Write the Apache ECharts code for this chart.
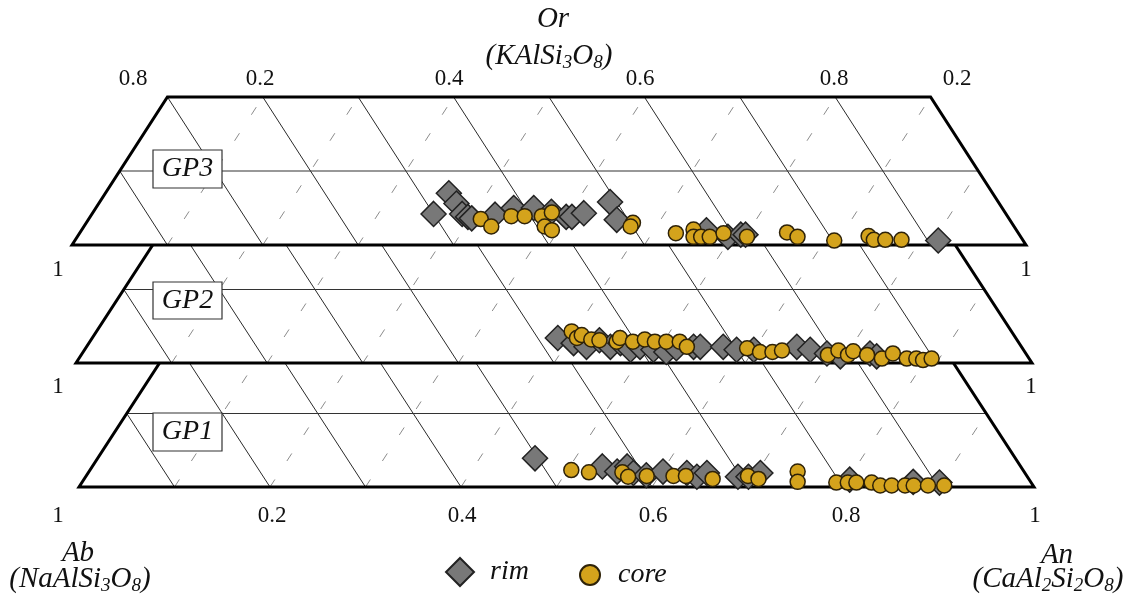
<!DOCTYPE html>
<html>
<head>
<meta charset="utf-8">
<script src="https://cdn.jsdelivr.net/npm/echarts/dist/echarts.min.js"></script>
<style>
  html, body { margin: 0; padding: 0; background: #ffffff; }
  #chart { width: 1139px; height: 595px; }
</style>
</head>
<body>
<div id="chart"></div>
<script>
// Feldspar compositions, each point as [An, Or] mole fraction (Ab = 1 - An - Or)
const gp3Rim = [
  [0.358, 0.042], [0.360, 0.070], [0.375, 0.056], [0.388, 0.042], [0.396, 0.038],
  [0.401, 0.036], [0.423, 0.041], [0.438, 0.050], [0.459, 0.050], [0.480, 0.045],
  [0.499, 0.038], [0.505, 0.038], [0.515, 0.043], [0.535, 0.058], [0.554, 0.034],
  [0.655, 0.020], [0.682, 0.011], [0.694, 0.014], [0.699, 0.014], [0.905, 0.006]
];
const gp3Core = [
  [0.411, 0.035], [0.427, 0.025], [0.441, 0.039], [0.455, 0.039], [0.473, 0.039],
  [0.481, 0.044], [0.483, 0.025], [0.493, 0.020], [0.573, 0.030], [0.573, 0.025],
  [0.625, 0.016], [0.641, 0.021], [0.646, 0.011], [0.654, 0.011], [0.663, 0.011],
  [0.675, 0.016], [0.702, 0.011], [0.741, 0.017], [0.755, 0.011], [0.796, 0.006],
  [0.829, 0.012], [0.837, 0.007], [0.849, 0.007], [0.866, 0.007]
];
const gp2Rim = [
  [0.487, 0.034], [0.507, 0.027], [0.523, 0.022], [0.532, 0.031], [0.548, 0.022],
  [0.556, 0.027], [0.571, 0.018], [0.579, 0.022], [0.595, 0.018], [0.610, 0.015],
  [0.618, 0.020], [0.635, 0.022], [0.642, 0.022], [0.666, 0.022], [0.682, 0.018],
  [0.700, 0.018], [0.743, 0.022], [0.759, 0.018], [0.779, 0.013], [0.795, 0.009],
  [0.824, 0.013], [0.833, 0.009]
];
const gp2Core = [
  [0.497, 0.043], [0.507, 0.034], [0.510, 0.038], [0.523, 0.032], [0.532, 0.031],
  [0.551, 0.029], [0.552, 0.034], [0.568, 0.029], [0.579, 0.032], [0.591, 0.029],
  [0.603, 0.029], [0.617, 0.029], [0.628, 0.022], [0.692, 0.020], [0.708, 0.015],
  [0.721, 0.015], [0.730, 0.017], [0.781, 0.011], [0.789, 0.017], [0.802, 0.011],
  [0.805, 0.016], [0.822, 0.011], [0.840, 0.006], [0.848, 0.013], [0.866, 0.006],
  [0.876, 0.006], [0.884, 0.004], [0.892, 0.006]
];
const gp1Rim = [
  [0.458, 0.039], [0.534, 0.028], [0.553, 0.021], [0.560, 0.028], [0.571, 0.019],
  [0.586, 0.016], [0.601, 0.021], [0.627, 0.019], [0.640, 0.014], [0.648, 0.019],
  [0.683, 0.014], [0.694, 0.014], [0.704, 0.019], [0.802, 0.010], [0.870, 0.007],
  [0.898, 0.006]
];
const gp1Core = [
  [0.504, 0.023], [0.524, 0.020], [0.559, 0.020], [0.568, 0.014], [0.587, 0.015],
  [0.615, 0.015], [0.628, 0.015], [0.658, 0.011], [0.693, 0.015], [0.706, 0.011],
  [0.742, 0.021], [0.749, 0.007], [0.790, 0.006], [0.802, 0.006], [0.811, 0.006],
  [0.827, 0.006], [0.838, 0.002], [0.850, 0.002], [0.864, 0.002], [0.873, 0.002],
  [0.888, 0.002], [0.905, 0.002]
];

// Ternary grid: the diagram is truncated at Or = 0.2
const orMax = 0.2;
const orGrid = [0.1];
const abGrid = [0.1, 0.2, 0.3, 0.4, 0.5, 0.6, 0.7, 0.8, 0.9];
const anGrid = [0.1, 0.2, 0.3, 0.4, 0.5, 0.6, 0.7, 0.8, 0.9];

// Text
const panelNames = ['GP1', 'GP2', 'GP3'];
const topTickLabels = ['0.8', '0.2', '0.4', '0.6', '0.8', '0.2'];
const bottomTickLabels = ['1', '0.2', '0.4', '0.6', '0.8', '1'];
const sideLabels = ['1', '1', '1', '1'];

// ---- layout (pixels) ----
const gridBoxes = [
  { left: 79, top: 340, width: 955, height: 147 },   // GP1
  { left: 76, top: 216, width: 956, height: 147 },   // GP2
  { left: 72, top: 97,  width: 954, height: 148 }    // GP3
];
const nameBoxes = [
  { x: 153, y: 413, w: 69, h: 38 },
  { x: 153, y: 282, w: 69, h: 37 },
  { x: 153, y: 150, w: 69, h: 38 }
];
const topTickX = [133, 260, 449, 640, 834, 957];
const topTickY = 79;
const bottomTickX = [58, 272, 462, 653, 846, 1035];
const bottomTickY = 516;
const sidePos = [[58, 270], [58, 387], [1026, 270], [1031, 387]];

const serif = '"Liberation Serif", "Times New Roman", serif';
const rimStyle = { color: '#787878', borderColor: '#222222', borderWidth: 1.5, opacity: 1 };
const coreStyle = { color: '#d4a31c', borderColor: '#2e2208', borderWidth: 1.5, opacity: 1 };

// ternary (An, Or) -> cartesian coordinates of a panel
const toXY = (an, or) => [an + or / 2, or];

function frameSeries(i, z) {
  return {
    type: 'custom',
    xAxisIndex: i,
    yAxisIndex: i,
    z: z,
    silent: true,
    clip: false,
    data: [[0, 0]],
    renderItem: function (params, api) {
      const P = (an, or) => api.coord(toXY(an, or));
      const outline = [P(0, 0), P(1, 0), P(1 - orMax, orMax), P(0, orMax)];
      const seg = (a, b) => ({ x1: a[0], y1: a[1], x2: b[0], y2: b[1] });
      const kids = [];
      kids.push({ type: 'polygon', shape: { points: outline }, style: { fill: '#ffffff', stroke: null } });
      // constant An (dashed, parallel to the Ab-Or side)
      anGrid.forEach(a => {
        const top = Math.min(orMax, 1 - a);
        kids.push({ type: 'line', shape: seg(P(a, 0), P(a, top)),
          style: { stroke: '#8c8c8c', lineWidth: 1, lineDash: [9, 22], fill: null } });
      });
      // constant Ab (solid, parallel to the An-Or side)
      abGrid.forEach(b => {
        const s = 1 - b;
        const top = s >= orMax ? P(s - orMax, orMax) : P(0, s);
        kids.push({ type: 'line', shape: seg(P(s, 0), top),
          style: { stroke: '#2a2a2a', lineWidth: 1, fill: null } });
      });
      // constant Or (horizontal)
      orGrid.forEach(o => {
        kids.push({ type: 'line', shape: seg(P(0, o), P(1 - o, o)),
          style: { stroke: '#333333', lineWidth: 1.2, fill: null } });
      });
      kids.push({ type: 'polygon', shape: { points: outline },
        style: { fill: null, stroke: '#000000', lineWidth: 3, lineJoin: 'miter' } });
      return { type: 'group', children: kids };
    }
  };
}

function pointSeries(name, i, data, symbol, size, style, z) {
  return {
    type: 'scatter',
    name: name,
    xAxisIndex: i,
    yAxisIndex: i,
    z: z,
    clip: false,
    symbol: symbol,
    symbolSize: size,
    itemStyle: style,
    emphasis: { disabled: true },
    data: data.map(p => toXY(p[0], p[1]))
  };
}

const rimSets = [gp1Rim, gp2Rim, gp3Rim];
const coreSets = [gp1Core, gp2Core, gp3Core];

const grids = [], xAxes = [], yAxes = [], series = [];
for (let i = 0; i < 3; i++) {
  grids.push(Object.assign({}, gridBoxes[i]));
  xAxes.push({ gridIndex: i, type: 'value', min: 0, max: 1, show: false });
  yAxes.push({ gridIndex: i, type: 'value', min: 0, max: orMax, show: false });
  series.push(frameSeries(i, 10 * i + 1));
  series.push(pointSeries('rim', i, rimSets[i], 'diamond', 25, rimStyle, 10 * i + 2));
  series.push(pointSeries('core', i, coreSets[i], 'circle', 15, coreStyle, 10 * i + 3));
}

function label(x, y, text, size, italic) {
  return {
    type: 'text', x: x, y: y, z: 100,
    style: {
      text: text, fontFamily: serif, fontSize: size,
      fontStyle: italic ? 'italic' : 'normal',
      fill: '#111111', align: 'center', verticalAlign: 'middle'
    }
  };
}
function formula(x, y, text) {
  return {
    type: 'text', x: x, y: y, z: 100,
    style: {
      text: text, align: 'center', verticalAlign: 'middle', fill: '#111111',
      rich: {
        n: { fontFamily: serif, fontSize: 29, fontStyle: 'italic', lineHeight: 32, fill: '#111111' },
        s: { fontFamily: serif, fontSize: 19, fontStyle: 'italic', lineHeight: 19,
             verticalAlign: 'bottom', fill: '#111111' }
      }
    }
  };
}

const graphics = [];
topTickLabels.forEach((t, k) => graphics.push(label(topTickX[k], topTickY, t, 23, false)));
bottomTickLabels.forEach((t, k) => graphics.push(label(bottomTickX[k], bottomTickY, t, 23, false)));
sideLabels.forEach((t, k) => graphics.push(label(sidePos[k][0], sidePos[k][1], t, 23, false)));
graphics.push(label(553, 19, 'Or', 29, true));
graphics.push(formula(549, 56, '{n|(KAlSi}{s|3}{n|O}{s|8}{n|)}'));
graphics.push(label(78, 553, 'Ab', 29, true));
graphics.push(formula(80, 579, '{n|(NaAlSi}{s|3}{n|O}{s|8}{n|)}'));
graphics.push(label(1057, 555, 'An', 29, true));
graphics.push(formula(1048, 579, '{n|(CaAl}{s|2}{n|Si}{s|2}{n|O}{s|8}{n|)}'));
nameBoxes.forEach((b, i) => {
  graphics.push({ type: 'rect', z: 100, shape: { x: b.x, y: b.y, width: b.w, height: b.h },
    style: { fill: '#ffffff', stroke: '#333333', lineWidth: 1.2 } });
  graphics.push(label(b.x + b.w / 2, b.y + b.h / 2, panelNames[i], 28, true));
});

function legendText(gap) {
  return {
    fontFamily: serif, fontStyle: 'italic', fontSize: 28, color: '#111111',
    rich: { g: { width: gap, fontSize: 28 } }
  };
}
const chart = echarts.init(document.getElementById('chart'), null, { renderer: 'canvas' });
chart.setOption({
  backgroundColor: '#ffffff',
  animation: false,
  grid: grids,
  xAxis: xAxes,
  yAxis: yAxes,
  legend: [
    { data: ['rim'], left: 440, top: 552, itemWidth: 28, itemHeight: 28,
      selectedMode: false, formatter: '{g| }{name}', textStyle: legendText(11) },
    { data: ['core'], left: 574, top: 556, itemWidth: 20, itemHeight: 20,
      selectedMode: false, formatter: '{g| }{name}', textStyle: legendText(13) }
  ],
  series: series,
  graphic: graphics
});
</script>
</body>
</html>
